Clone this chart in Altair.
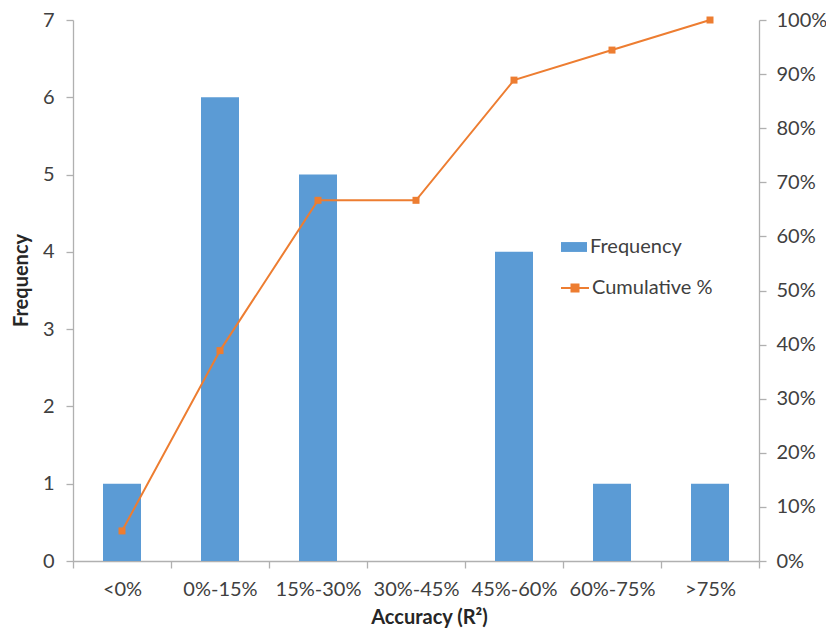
import altair as alt
import pandas as pd

categories = ["<0%", "0%-15%", "15%-30%", "30%-45%", "45%-60%", "60%-75%", ">75%"]
frequency = [1, 6, 5, 0, 4, 1, 1]
cumulative = [0.0556, 0.3889, 0.6667, 0.6667, 0.8889, 0.9444, 1.0]
freq_ticks = [0, 1, 2, 3, 4, 5, 6, 7]
pct_ticks = [0, 0.1, 0.2, 0.3, 0.4, 0.5, 0.6, 0.7, 0.8, 0.9, 1.0]

df = pd.DataFrame({"cat": categories, "freq": frequency, "cum": cumulative,
                   "s1": "Frequency", "s2": "Cumulative %"})

FONT = "Lato"
TXT = "#404040"
AX = "#b0b0b0"
BLUE = "#5b9bd5"
ORANGE = "#ed7d31"

x = alt.X("cat:N", sort=categories, title="Accuracy (R²)",
          scale=alt.Scale(paddingInner=0, paddingOuter=0),
          axis=alt.Axis(labelAngle=0, tickBand="extent", labelPadding=11,
                        titleX=356, titleY=56, titleBaseline="middle", titleAlign="center"))

bars = alt.Chart(df).mark_bar(width=38).encode(
    x=x,
    y=alt.Y("freq:Q", title="Frequency", scale=alt.Scale(domain=[0, 7], nice=False),
            axis=alt.Axis(values=freq_ticks, labelPadding=12, titleX=-52, titleY=260,
                          titleBaseline="middle", titleAlign="center")),
    fill=alt.Fill("s1:N", scale=alt.Scale(range=[BLUE]),
                  legend=alt.Legend(title=None, orient="none", legendX=488, legendY=214,
                                    symbolType="M-1,-0.38H1V0.38H-1Z", symbolSize=676,
                                    symbolStrokeWidth=0, padding=0, labelOffset=3)),
)

line = alt.Chart(df).mark_line(
    strokeWidth=2,
    point=alt.OverlayMarkDef(shape="square", size=49, filled=True, fill=ORANGE, strokeWidth=0),
).encode(
    x=x,
    y=alt.Y("cum:Q", scale=alt.Scale(domain=[0, 1], nice=False),
            axis=alt.Axis(orient="right", values=pct_ticks, format=".0%", labelPadding=10,
                          title=None)),
    stroke=alt.Stroke("s2:N", scale=alt.Scale(range=[ORANGE]),
                      legend=alt.Legend(title=None, orient="none", legendX=487, legendY=253,
                                        symbolType="M-1,0H1M-0.25,-0.25H0.25V0.25H-0.25Z",
                                        symbolSize=784, symbolFillColor=ORANGE,
                                        symbolStrokeWidth=2, padding=0, labelOffset=2)),
)

chart = alt.layer(bars, line).resolve_scale(y="independent").properties(
    width=686, height=541,
    autosize=alt.AutoSizeParams(type="none"),
    padding={"left": 65, "top": 12, "right": 67, "bottom": 68},
).configure_view(stroke=None).configure_axis(
    grid=False, labelFont=FONT, labelFontSize=20, labelColor=TXT,
    titleFont=FONT, titleFontSize=20, titleFontWeight="bold", titleColor="#262626",
    domainColor=AX, tickColor=AX, tickSize=7, domainWidth=1.3, tickWidth=1.3,
).configure_legend(
    labelFont=FONT, labelFontSize=20, labelColor=TXT,
)

chart.save("out.html", embed_options={"renderer": "svg", "actions": False})
